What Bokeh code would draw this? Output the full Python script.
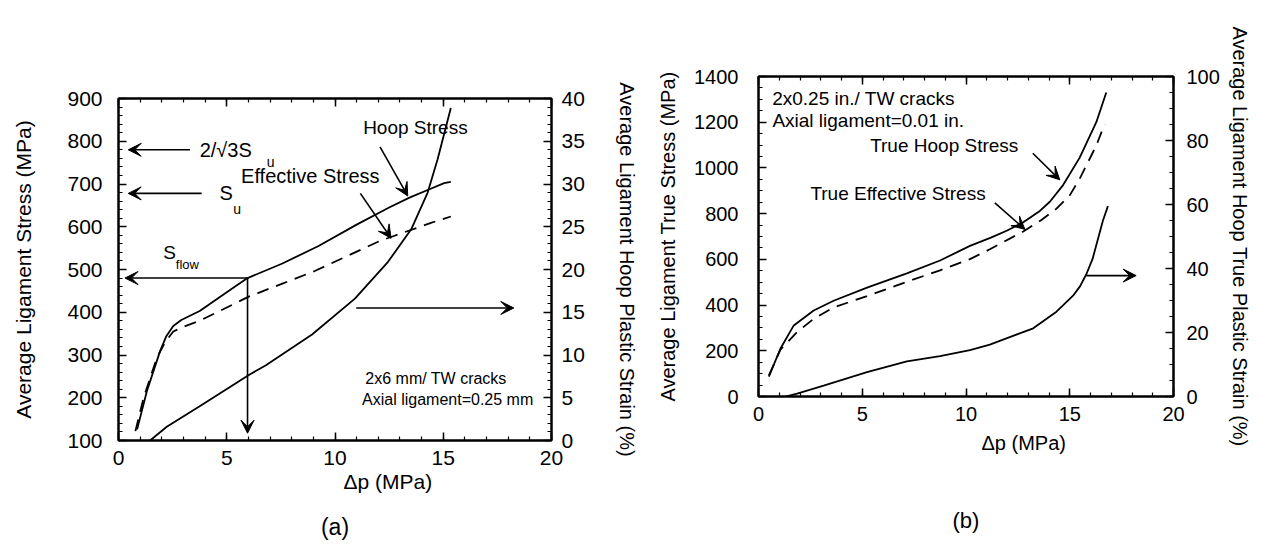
from bokeh.plotting import figure
from bokeh.models import (Range1d, LinearAxis, SingleIntervalTicker, FixedTicker, Label, Arrow,
                          VeeHead, CustomJSTickFormatter, Title)
from bokeh.layouts import row, column
from bokeh.embed import file_html
from bokeh.resources import INLINE

FONT = "Liberation Sans"

# ---------------- data: panel (a) ----------------
a_hoop_x = [0.86, 1.31, 1.92, 2.2, 2.53, 2.9, 3.75, 5.0, 5.96, 7.57, 9.24, 11.0, 12.5, 13.44, 14.28, 15.04, 15.35]
a_hoop_y = [126, 215, 309, 343, 368, 382, 403, 447, 480, 514, 555, 605, 645, 668, 686, 702, 705]
a_eff_x = [0.78, 1.16, 1.77, 2.15, 2.53, 3.0, 3.75, 6.04, 7.57, 9.09, 11.99, 12.75, 14.43, 15.35]
a_eff_y = [122, 200, 293, 330, 355, 366, 380, 437, 467, 497, 565, 579, 609, 624]
a_strain_x = [1.46, 2.23, 3.75, 6.04, 6.81, 8.94, 10.92, 12.45, 13.52, 14.28, 14.74, 15.35]
a_strain_y = [0, 1.6, 4.0, 7.7, 8.8, 12.4, 16.6, 20.9, 24.7, 29.0, 32.9, 38.9]

# ---------------- data: panel (b) ----------------
b_hoop_x = [0.5, 1.06, 1.70, 2.66, 3.62, 5.23, 7.15, 8.75, 10.19, 11.2, 11.96, 12.76, 13.56, 14.04, 14.68, 15.48, 16.28, 16.76]
b_hoop_y = [87, 210, 311, 376, 419, 476, 539, 595, 659, 695, 725, 762, 812, 852, 925, 1045, 1200, 1330]
b_eff_x = [0.5, 1.06, 1.86, 2.66, 3.62, 5.23, 7.15, 8.75, 10.19, 11.15, 12.76, 13.6, 14.36, 15.0, 15.48, 16.28, 16.68]
b_eff_y = [92, 205, 282, 340, 390, 439, 502, 552, 601, 644, 722, 770, 822, 880, 953, 1098, 1192]
b_strain_x = [1.3, 1.86, 3.14, 5.23, 7.15, 8.75, 10.19, 11.15, 13.24, 14.36, 15.16, 15.5, 15.8, 16.1, 16.35, 16.6, 16.84]
b_strain_y = [0, 0.9, 3.4, 7.6, 11.0, 12.6, 14.5, 16.2, 21.3, 26.5, 31.5, 34.5, 38.2, 43.0, 49.0, 55.0, 59.5]

x_label = "\u0394p (MPa)"
a_left_label = "Average Ligament Stress (MPa)"
a_right_label = "Average Ligament Hoop Plastic Strain (%)"
b_left_label = "Average Ligament True Stress (MPa)"
b_right_label = "Average Ligament Hoop True Plastic Strain (%)"


def style_axis(ax, standoff, label_standoff=10, tick_size="20px", label_size="20px"):
    ax.axis_line_width = 2
    ax.axis_line_color = "black"
    ax.major_tick_in = 8
    ax.major_tick_out = 0
    ax.minor_tick_in = 4
    ax.minor_tick_out = 0
    ax.major_tick_line_width = 1.5
    ax.minor_tick_line_width = 1.2
    ax.major_tick_line_color = "black"
    ax.minor_tick_line_color = "black"
    ax.major_label_text_font = FONT
    ax.major_label_text_font_size = tick_size
    ax.major_label_text_color = "black"
    ax.major_label_standoff = standoff
    ax.axis_label_text_font = FONT
    ax.axis_label_text_font_size = label_size
    ax.axis_label_text_font_style = "normal"
    ax.axis_label_text_color = "black"
    ax.axis_label_standoff = label_standoff


def make_panel(width, borders, yr, y_int, y_minor, sr, s_int, s_minor,
               left_label, right_label, stand, tick_size, left_size):
    p = figure(width=width, height=546, x_range=Range1d(0, 20), y_range=Range1d(*yr),
               output_backend="svg", toolbar_location=None,
               min_border_left=borders[0], min_border_right=borders[1],
               min_border_top=borders[2], min_border_bottom=borders[3])
    p.extra_y_ranges = {"strain": Range1d(*sr)}
    p.xgrid.grid_line_color = None
    p.ygrid.grid_line_color = None
    p.outline_line_color = "black"
    p.outline_line_width = 2
    p.background_fill_color = "white"
    p.border_fill_color = "white"

    xa = p.xaxis[0]
    xa.ticker = SingleIntervalTicker(interval=5, num_minor_ticks=5)
    style_axis(xa, stand[0], tick_size=tick_size)
    ya = p.yaxis[0]
    ya.ticker = SingleIntervalTicker(interval=y_int, num_minor_ticks=y_minor)
    style_axis(ya, stand[1], stand[2], tick_size=tick_size, label_size=left_size)
    ya.axis_label = left_label

    ra = LinearAxis(y_range_name="strain",
                    ticker=SingleIntervalTicker(interval=s_int, num_minor_ticks=s_minor))
    style_axis(ra, stand[3], stand[4], tick_size=tick_size)
    ra.axis_label = right_label
    p.add_layout(ra, "right")

    ta = LinearAxis(ticker=SingleIntervalTicker(interval=5, num_minor_ticks=5),
                    formatter=CustomJSTickFormatter(code="return ''"))
    style_axis(ta, 0)
    p.add_layout(ta, "above")
    return p


def lab(p, x, y, text, size, align="left", baseline="middle"):
    p.add_layout(Label(x=x, y=y, text=text, text_font=FONT, text_font_size=size,
                       text_align=align, text_baseline=baseline, text_color="black"))


def arr(p, x0, y0, x1, y1):
    p.add_layout(Arrow(end=VeeHead(size=13, fill_color="black", line_color="black", line_width=1),
                       x_start=x0, y_start=y0, x_end=x1, y_end=y1,
                       line_color="black", line_width=1.6))


def below_title(p, text, size, offset, standoff):
    t = Title(text=text, align="left", offset=offset, standoff=standoff,
              text_font=FONT, text_font_size=size, text_font_style="normal",
              text_color="black")
    p.add_layout(t, "below")


def panel_tag(p, text, size, standoff, align=None):
    ax = LinearAxis(ticker=FixedTicker(ticks=[]), axis_label=text)
    ax.axis_line_color = None
    ax.major_tick_line_color = None
    ax.minor_tick_line_color = None
    ax.major_tick_in = 0
    ax.major_tick_out = 0
    ax.minor_tick_in = 0
    ax.minor_tick_out = 0
    ax.major_label_standoff = 0
    ax.axis_label_standoff = standoff
    ax.axis_label_text_font = FONT
    ax.axis_label_text_font_size = size
    ax.axis_label_text_font_style = "normal"
    ax.axis_label_text_color = "black"
    if align is not None:
        ax.axis_label_text_align = align
    p.add_layout(ax, "below")


# ---------------- panel (a) ----------------
pa = make_panel(640, (118, 85, 98, 106), (100, 900), 100, 5, (0, 40), 5, 5,
                a_left_label, a_right_label, (10, 16, 29, 10, 28), "21px", "21px")
pa.line(a_hoop_x, a_hoop_y, line_color="black", line_width=1.8)
pa.line(a_eff_x, a_eff_y, line_color="black", line_width=1.8, line_dash="12 8")
pa.line(a_strain_x, a_strain_y, line_color="black", line_width=1.8, y_range_name="strain")

arr(pa, 3.3, 780, 0.45, 780)
lab(pa, 3.75, 780, "2/\u221a3S", "20px")
lab(pa, 6.85, 752, "u", "14px")
arr(pa, 3.84, 678, 0.45, 678)
lab(pa, 4.67, 678, "S", "20px")
lab(pa, 5.3, 641, "u", "14px")
lab(pa, 5.66, 718, "Effective Stress", "20px")
arr(pa, 11.17, 678, 12.59, 573)
lab(pa, 11.3, 831, "Hoop Stress", "19px")
arr(pa, 12.08, 787, 13.36, 672)
lab(pa, 2.07, 539, "S", "19px")
lab(pa, 2.65, 511, "flow", "13px")
arr(pa, 5.96, 480, 0.3, 480)
arr(pa, 5.96, 480, 5.96, 117)
arr(pa, 10.98, 410, 18.26, 410)
lab(pa, 11.4, 244, "2x6 mm/ TW cracks", "16px")
lab(pa, 11.25, 195, "Axial ligament=0.25 mm", "16px")
below_title(pa, x_label, "21px", 225, 0)
panel_tag(pa, "(a)", "23px", 21, "right")

# ---------------- panel (b) ----------------
pb = make_panel(621, (118, 88, 76, 150), (0, 1400), 200, 4, (0, 100), 20, 4,
                b_left_label, b_right_label, (10, 20, 12, 13, 6), "20px", "20px")
pb.line(b_hoop_x, b_hoop_y, line_color="black", line_width=1.8)
pb.line(b_eff_x, b_eff_y, line_color="black", line_width=1.8, line_dash="12 8")
pb.line(b_strain_x, b_strain_y, line_color="black", line_width=1.8, y_range_name="strain")

lab(pb, 0.66, 1304, "2x0.25 in./ TW cracks", "19px")
lab(pb, 0.67, 1209, "Axial ligament=0.01 in.", "19px")
lab(pb, 5.38, 1098, "True Hoop Stress", "19px")
arr(pb, 13.22, 1064, 14.52, 948)
lab(pb, 2.5, 887, "True Effective Stress", "19px")
arr(pb, 11.39, 847, 12.84, 731)
arr(pb, 15.8, 529, 18.2, 529)
below_title(pb, x_label, "20px", 223, 13)
panel_tag(pb, "(b)", "22px", 47)

layout = row(pa, column(pb))
open("out.html", "w").write(file_html(layout, INLINE))
